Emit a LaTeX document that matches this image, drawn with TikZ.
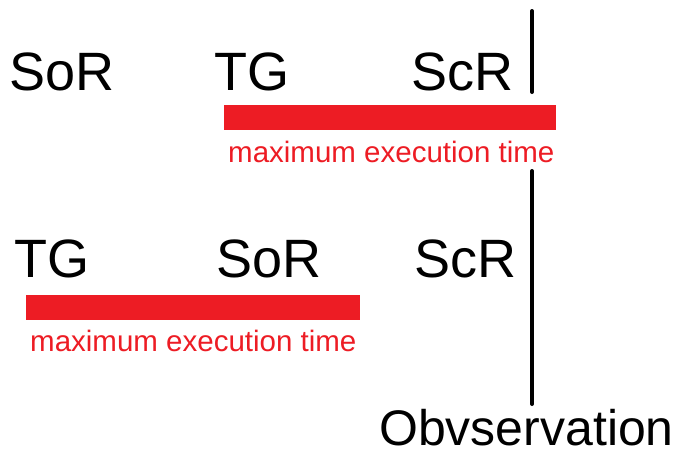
\documentclass[tikz,border=0pt]{standalone}
\usepackage{fontspec}
\setmainfont{Liberation Sans}
\usepackage{xcolor}
\usetikzlibrary{positioning}
\definecolor{barred}{HTML}{ED1C24}

\begin{document}
\begin{tikzpicture}[x=1pt,y=-1pt,
                    big/.style={anchor=base west, inner sep=0pt, font=\fontsize{54}{60}\selectfont},
                    met/.style={anchor=base west, inner sep=0pt, text=barred, font=\fontsize{29.5}{32}\selectfont},
                    bar/.style={fill=barred},
                    obs/.style={line width=4pt, line cap=round}]
                    \useasboundingbox (0,0) rectangle (684,456);

                    % first ordering
                    \node[big] (SoR1) at (9,90) {SoR};
                    \node[big] (TG1) at (214,90) {TG};
                    \node[big] (ScR1) at (411,90) {ScR};
                    \coordinate (B1a) at (224,105);
                    \coordinate (B1b) at (556,130);
                    \fill[bar] (B1a) rectangle (B1b);
                    \node[met] (M1) at (228,162) {maximum execution time};

                    % second ordering
                    \node[big] (TG2) at (14,277) {TG};
                    \node[big] (SoR2) at (216,277) {SoR};
                    \node[big] (ScR2) at (414,277) {ScR};
                    \coordinate (B2a) at (26,295);
                    \coordinate (B2b) at (360,320);
                    \fill[bar] (B2a) rectangle (B2b);
                    \node[met] (M2) at (30,351) {maximum execution time};

                    % observation line
                    \coordinate (L1) at (532,11);
                    \coordinate (L2) at (532,92);
                    \coordinate (L3) at (532,171);
                    \coordinate (L4) at (532,404);
                    \draw[obs] (L1) -- (L2);
                    \draw[obs] (L3) -- (L4);
                    \node[big, font=\fontsize{50}{56}\selectfont] (O) at (379,445) {Obvservation};
                \end{tikzpicture}
\end{document}
